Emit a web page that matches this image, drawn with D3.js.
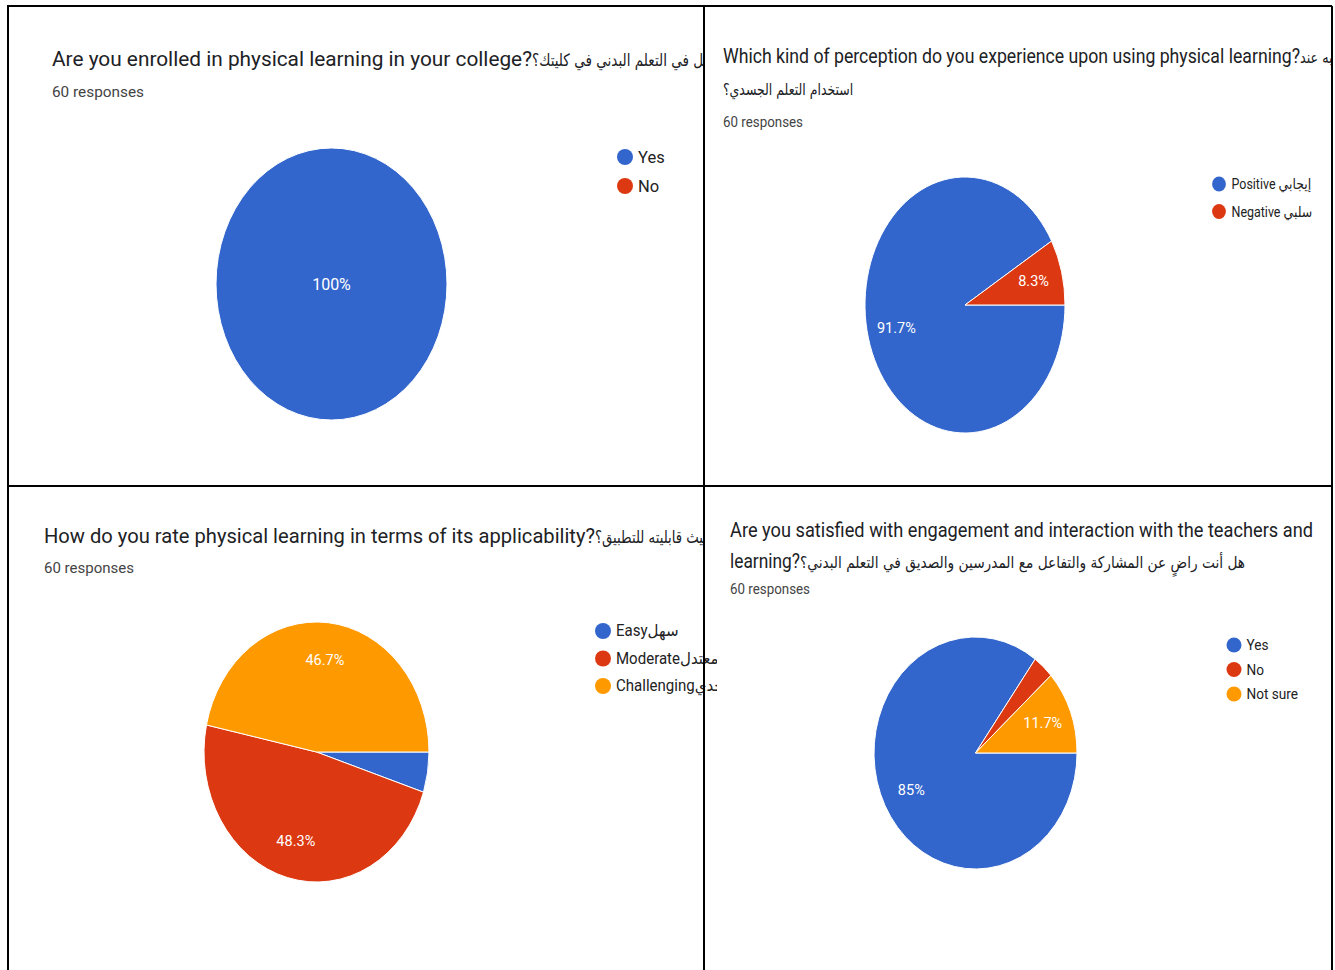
<!DOCTYPE html>
<html>
<head>
<meta charset="utf-8">
<script src="https://cdn.jsdelivr.net/npm/d3@7"></script>
<style>
  html, body { margin: 0; padding: 0; background: #fff; }
  svg { display: block; }
</style>
</head>
<body>
<svg id="chart" width="1335" height="970"></svg>
<script>
// Survey answers (counts out of 60 responses)
const colors = ["#3366cc", "#dc3912", "#ff9900"];

const enrolledLabels = ["Yes", "No"];
const enrolledCounts = [60, 0];

const perceptionLabels = ["Positive إيجابي", "Negative سلبي"];
const perceptionCounts = [55, 5];

const applicabilityLabels = ["Easyسهل", "Moderateمعتدل", "Challengingتحدي"];
const applicabilityCounts = [3, 29, 28];

const satisfactionLabels = ["Yes", "No", "Not sure"];
const satisfactionCounts = [51, 2, 7];

const responsesText = "60 responses";

const svg = d3.select("#chart");
const FONT = "Roboto, 'DejaVu Sans', sans-serif";
const AR_FONT = "'DejaVu Sans', sans-serif";

const panels = [
  {
    id: "p1", clip: [8, 6, 696, 480],
    title: [
      { en: "Are you enrolled in physical learning in your college?", enW: 480,
        ar: "هل أنت مسجل في التعلم البدني في كليتك؟", arSize: 17, arScale: 0.8, x: 52, y: 66, size: 20 }
    ],
    resp: { x: 52, y: 97, size: 15.5, w: 92 },
    pie: { cx: 331.5, cy: 284, rx: 115.5, ry: 136 },
    labels: enrolledLabels, counts: enrolledCounts,
    legend: { x: 625, y: 157, dy: 29, r: 8, size: 16.5, clipX: 704 }
  },
  {
    id: "p2", clip: [704, 6, 628, 480],
    title: [
      { en: "Which kind of perception do you experience upon using physical learning?", enW: 577,
        ar: "ما نوع الإدراك الذي تشعر به عند", arSize: 16, arScale: 0.8, x: 723, y: 63, size: 19.5 },
      { en: "", enW: 0, ar: "استخدام التعلم الجسدي؟", arSize: 16, arScale: 0.78, x: 723, y: 95, size: 16 }
    ],
    resp: { x: 723, y: 127, size: 14.5, w: 80 },
    pie: { cx: 965, cy: 305, rx: 100, ry: 128 },
    labels: perceptionLabels, counts: perceptionCounts,
    legend: { x: 1219, y: 184, dy: 27.5, r: 7.5, size: 14.5, clipX: 1332, scaleX: 0.86 }
  },
  {
    id: "p3", clip: [8, 486, 696, 484],
    title: [
      { en: "How do you rate physical learning in terms of its applicability?", enW: 551,
        ar: "كيف تقيم التعلم البدني من حيث قابليته للتطبيق؟", arSize: 17, arScale: 0.78, x: 44, y: 543, size: 20 }
    ],
    resp: { x: 44, y: 573, size: 15.5, w: 90 },
    pie: { cx: 316.5, cy: 752, rx: 112.5, ry: 130 },
    labels: applicabilityLabels, counts: applicabilityCounts,
    legend: { x: 603, y: 631, dy: 27.5, r: 8, size: 16, clipX: 717, scaleX: 0.94 }
  },
  {
    id: "p4", clip: [704, 486, 628, 484],
    title: [
      { en: "Are you satisfied with engagement and interaction  with the teachers and", enW: 583,
        ar: "", x: 730, y: 537, size: 19.5 },
      { en: "learning?", enW: 70,
        ar: "هل أنت راضٍ عن المشاركة والتفاعل مع المدرسين والصديق في التعلم البدني؟", arSize: 16, arW: 445,
        x: 730, y: 568, size: 19.5 }
    ],
    resp: { x: 730, y: 594, size: 14.5, w: 80 },
    pie: { cx: 975.5, cy: 753, rx: 101.5, ry: 116 },
    labels: satisfactionLabels, counts: satisfactionCounts,
    legend: { x: 1234, y: 645, dy: 24.5, r: 7.5, size: 14.5, clipX: 1332, scaleX: 0.94 }
  }
];

const defs = svg.append("defs");
const R = 100; // base radius; each pie is stretched to its ellipse
const pieGen = d3.pie().sort(null).value(d => d)
  .startAngle(Math.PI / 2).endAngle(Math.PI / 2 + 2 * Math.PI);
const arcGen = d3.arc().innerRadius(0).outerRadius(R);
const fmt = v => {
  const s = d3.format(".1f")(v);
  return (s.endsWith(".0") ? s.slice(0, -2) : s) + "%";
};

// Text drawn with a horizontal squeeze, anchored at its left edge x
function squeezedText(parent, x, y, scale) {
  return parent.append("text")
    .attr("x", x / scale).attr("y", y)
    .attr("transform", `scale(${scale},1)`);
}

panels.forEach(p => {
  defs.append("clipPath").attr("id", "clip-" + p.id)
    .append("rect").attr("x", p.clip[0]).attr("y", p.clip[1])
    .attr("width", p.clip[2]).attr("height", p.clip[3]);
  defs.append("clipPath").attr("id", "lclip-" + p.id)
    .append("rect").attr("x", p.clip[0]).attr("y", p.clip[1])
    .attr("width", p.legend.clipX - p.clip[0]).attr("height", p.clip[3]);

  const g = svg.append("g").attr("clip-path", `url(#clip-${p.id})`);

  // Question title
  p.title.forEach(t => {
    let x = t.x;
    if (t.en) {
      g.append("text").attr("x", x).attr("y", t.y)
        .attr("font-family", FONT).attr("font-size", t.size).attr("fill", "#202124")
        .attr("textLength", t.enW).attr("lengthAdjust", "spacingAndGlyphs")
        .text(t.en);
      x += t.enW;
    }
    if (t.ar) {
      let a;
      if (t.arW) {
        a = g.append("text").attr("x", x).attr("y", t.y)
          .attr("textLength", t.arW).attr("lengthAdjust", "spacingAndGlyphs");
      } else {
        a = squeezedText(g, x, t.y, t.arScale);
      }
      a.attr("font-family", AR_FONT).attr("font-size", t.arSize)
        .attr("fill", "#202124").text(t.ar);
    }
  });

  g.append("text").attr("x", p.resp.x).attr("y", p.resp.y)
    .attr("font-family", FONT).attr("font-size", p.resp.size).attr("fill", "#444")
    .attr("textLength", p.resp.w).attr("lengthAdjust", "spacingAndGlyphs")
    .text(responsesText);

  // Pie, stretched into an ellipse
  const total = d3.sum(p.counts);
  const arcs = pieGen(p.counts);
  const sx = p.pie.rx / R, sy = p.pie.ry / R;
  const pg = g.append("g")
    .attr("transform", `translate(${p.pie.cx},${p.pie.cy}) scale(${sx},${sy})`);
  pg.selectAll("path").data(arcs.filter(a => a.value > 0)).join("path")
    .attr("d", arcGen)
    .attr("fill", d => colors[d.index])
    .attr("stroke", "#fff").attr("stroke-width", 1)
    .attr("vector-effect", "non-scaling-stroke");

  // Percentage labels inside slices
  arcs.forEach(a => {
    const frac = a.value / total;
    if (frac < 0.06) return;
    let lx = 0, ly = 0;
    if (frac < 1) {
      const mid = (a.startAngle + a.endAngle) / 2;
      const lr = 0.71 * R;
      lx = Math.sin(mid) * lr * sx;
      ly = -Math.cos(mid) * lr * sy;
    }
    g.append("text")
      .attr("x", p.pie.cx + lx).attr("y", p.pie.cy + ly)
      .attr("text-anchor", "middle").attr("dominant-baseline", "central")
      .attr("font-family", FONT).attr("font-size", frac === 1 ? 16 : 14.5).attr("fill", "#fff")
      .text(fmt(frac * 100));
  });

  // Legend
  const lg = svg.append("g").attr("clip-path", `url(#lclip-${p.id})`);
  p.labels.forEach((lab, i) => {
    const y = p.legend.y + i * p.legend.dy;
    lg.append("ellipse").attr("cx", p.legend.x).attr("cy", y)
      .attr("rx", p.legend.r * (p.legend.scaleX && p.legend.scaleX < 0.9 ? 0.92 : 1))
      .attr("ry", p.legend.r)
      .attr("fill", colors[i]);
    const tx = p.legend.x + p.legend.r + 5;
    const t = p.legend.scaleX
      ? squeezedText(lg, tx, y, p.legend.scaleX)
      : lg.append("text").attr("x", tx).attr("y", y);
    t.attr("dominant-baseline", "central")
      .attr("font-family", FONT).attr("font-size", p.legend.size).attr("fill", "#222")
      .text(lab);
  });
});

// Table grid lines
const grid = svg.append("g").attr("stroke", "#000").attr("stroke-width", 2);
[[7, 6, 1332, 6], [7, 486, 1332, 486], [8, 6, 8, 970], [704, 6, 704, 970], [1332, 6, 1332, 970]]
  .forEach(([x1, y1, x2, y2]) => grid.append("line")
    .attr("x1", x1).attr("y1", y1).attr("x2", x2).attr("y2", y2));
</script>
</body>
</html>
